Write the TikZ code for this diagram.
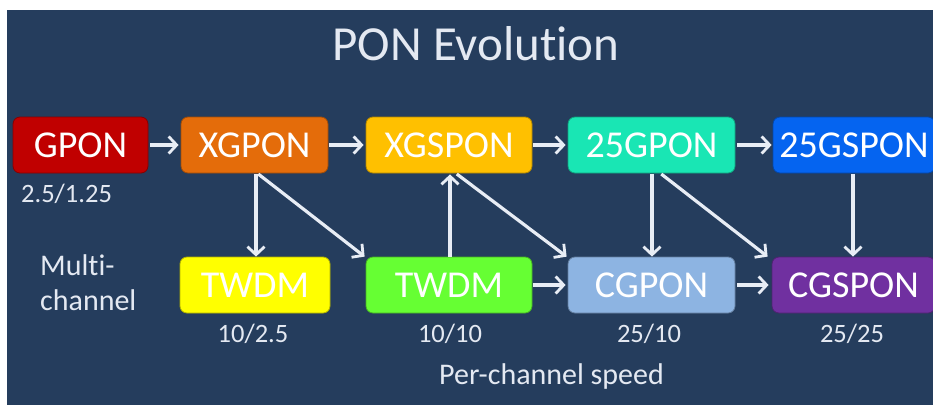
\documentclass[tikz,border=0pt]{standalone}
\usepackage{fontspec}
\setmainfont{Carlito}[Ligatures={NoCommon,NoRequired,NoContextual}]
\usetikzlibrary{arrows.meta}
\definecolor{bg}{RGB}{37,61,93}
\definecolor{gponc}{RGB}{192,0,0}
\definecolor{xgponc}{RGB}{228,108,10}
\definecolor{xgsponc}{RGB}{255,192,0}
\definecolor{tfgponc}{RGB}{25,230,180}
\definecolor{tfgsponc}{RGB}{5,100,240}
\definecolor{twdmyc}{RGB}{255,255,0}
\definecolor{twdmgc}{RGB}{102,255,51}
\definecolor{cgponc}{RGB}{141,180,226}
\definecolor{cgsponc}{RGB}{112,48,160}
\definecolor{arrowc}{RGB}{232,237,245}
\definecolor{labc}{RGB}{228,233,242}
\begin{document}
\begin{tikzpicture}[x=1pt,y=-1pt,
  box/.style={rounded corners=7pt, minimum height=56pt, inner sep=0pt,
    text=white, font=\fontsize{38}{40}\selectfont,
    draw=#1!70!black, fill=#1, line width=0.8pt},
  conn/.style={draw=arrowc, line width=3.2pt,
    -{Straight Barb[length=8pt,width=17pt,line width=2.8pt]}},
  lab/.style={text=labc, inner sep=0pt, font=\fontsize{26.5}{30}\selectfont},
  side/.style={text=labc, inner sep=0pt, font=\fontsize{30}{34}\selectfont}]
\useasboundingbox (0,0) rectangle (933,405);
\fill[white] (0,0) rectangle (933,405);
\fill[bg] (7,10) rectangle (933,405);
\begin{scope}
\clip (7,10) rectangle (933,405);
% title
\node[text=labc, inner sep=0pt, font=\fontsize{49}{54}\selectfont, anchor=base] (title) at (476,60) {PON Evolut\kern0pt ion};
% top row
\node[box=gponc, minimum width=135pt] (gpon) at (80.5,145) {GPON};
\node[box=xgponc, minimum width=147pt] (xgpon) at (254.5,145) {XGPON};
\node[box=xgsponc, minimum width=166pt] (xgspon) at (449,145) {XGSPON};
\node[box=tfgponc, minimum width=167pt] (tfgpon) at (651.5,145) {25GPON};
\node[box=tfgsponc, minimum width=162pt] (tfgspon) at (854,145) {25GSPON};
% bottom row
\node[box=twdmyc, minimum width=150pt] (twdma) at (255,285) {TWDM};
\node[box=twdmgc, minimum width=166pt] (twdmb) at (449,285) {TWDM};
\node[box=cgponc, minimum width=167pt] (cgpon) at (651.5,285) {CGPON};
\node[box=cgsponc, minimum width=163pt] (cgspon) at (853.5,285) {CGSPON};
% labels
\node[lab, anchor=base west] (r1) at (21,202) {2.5/1.25};
\node[side, anchor=base west] (m1) at (40,275) {Mult\kern0pt i-};
\node[side, anchor=base west] (m2) at (40,310) {channel};
\node[lab, anchor=base] (r2) at (253,342) {10/2.5};
\node[lab, anchor=base] (r3) at (450,342) {10/10};
\node[lab, anchor=base] (r4) at (649,342) {25/10};
\node[lab, anchor=base] (r5) at (852,342) {25/25};
\node[side, anchor=base] (pcs) at (551.5,384) {Per-channel speed};
% horizontal arrows
\draw[conn, shorten <=2pt, shorten >=2pt] (gpon) -- (xgpon);
\draw[conn, shorten <=1pt, shorten >=2pt] (xgpon) -- (xgspon);
\draw[conn, shorten <=1pt, shorten >=2pt] (xgspon) -- (tfgpon);
\draw[conn, shorten <=2pt, shorten >=1pt] (tfgpon) -- (tfgspon);
\draw[conn, shorten <=1pt, shorten >=2pt] (twdmb) -- (cgpon);
\draw[conn, shorten <=2pt, shorten >=3pt] (cgpon) -- (cgspon);
% vertical arrows
\draw[conn, shorten <=1pt] ([xshift=1.5pt]xgpon.south) -- ([xshift=1pt]twdma.north);
\draw[conn, shorten >=1pt] ([xshift=1pt]twdmb.north) -- ([xshift=1pt]xgspon.south);
\draw[conn, shorten <=1pt] ([xshift=0.5pt]tfgpon.south) -- ([xshift=0.5pt]cgpon.north);
\draw[conn, shorten <=1pt] ([xshift=-1pt]tfgspon.south) -- ([xshift=-0.5pt]cgspon.north);
% diagonal arrows
\draw[conn, shorten <=1pt] ([xshift=3pt]xgpon.south) -- ([xshift=-1pt]twdmb.north west);
\draw[conn, shorten <=1pt] ([xshift=7pt]xgspon.south) -- ([xshift=-1pt]cgpon.north west);
\draw[conn, shorten <=1pt] ([xshift=9pt]tfgpon.south) -- ([xshift=-4pt]cgspon.north west);
\end{scope}
\end{tikzpicture}
\end{document}
